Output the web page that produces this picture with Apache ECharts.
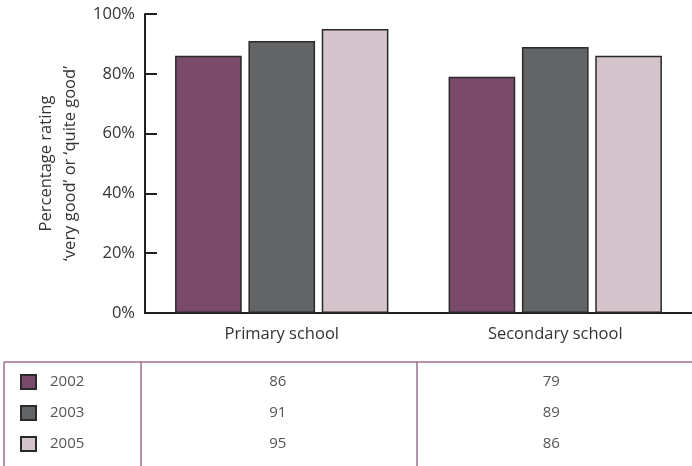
<!DOCTYPE html>
<html>
<head>
<meta charset="utf-8">
<script src="https://cdn.jsdelivr.net/npm/echarts@6/dist/echarts.min.js"></script>
<style>
  html, body { margin: 0; padding: 0; background: #fff; }
  #chart { width: 692px; height: 466px; }
</style>
</head>
<body>
<div id="chart"></div>
<script>
// ---- data ----
const categories = ['Primary school', 'Secondary school'];
const years = ['2002', '2003', '2005'];
const values2002 = [86, 79];
const values2003 = [91, 89];
const values2005 = [95, 86];
const yTicks = [0, 20, 40, 60, 80, 100];
const yAxisTitle = 'Percentage rating\n\u2018very good\u2019 or \u2018quite good\u2019';

// ---- style ----
const FONT = '"Open Sans", "Noto Sans", sans-serif';
const colors = ['#7a4a6a', '#636466', '#d5c4cb'];
const seriesValues = [values2002, values2003, values2005];
const tableLine = '#9a7090';

const chart = echarts.init(document.getElementById('chart'), null, { renderer: 'canvas' });

const option = {
  animation: false,
  backgroundColor: '#fff',
  textStyle: { fontFamily: FONT },
  grid: { left: 145, right: 0, top: 14, bottom: 153, containLabel: false },
  legend: {
    orient: 'vertical',
    left: 20,
    top: 374,
    padding: 0,
    itemWidth: 15,
    itemHeight: 14,
    itemGap: 15,
    icon: 'rect',
    selectedMode: false,
    textStyle: { fontFamily: FONT, fontSize: 15, color: '#555', padding: [0, 0, 0, 9] },
    data: years
  },
  xAxis: {
    type: 'category',
    data: categories,
    axisLine: { lineStyle: { color: '#231f20', width: 2 } },
    axisTick: { inside: true, length: 7, lineStyle: { color: '#231f20', width: 2 } },
    axisLabel: { fontFamily: FONT, fontSize: 16.5, color: '#333', margin: 13 }
  },
  yAxis: {
    type: 'value',
    min: yTicks[0],
    max: yTicks[yTicks.length - 1],
    interval: yTicks[1] - yTicks[0],
    name: yAxisTitle,
    nameLocation: 'middle',
    nameRotate: 90,
    nameGap: 63,
    nameTextStyle: { fontFamily: FONT, fontSize: 16.5, color: '#333', lineHeight: 24 },
    splitLine: { show: false },
    axisLine: { show: true, lineStyle: { color: '#231f20', width: 2 } },
    axisTick: { show: true, inside: true, length: 12, lineStyle: { color: '#231f20', width: 2 } },
    axisLabel: { fontFamily: FONT, fontSize: 16.5, color: '#333', margin: 10, formatter: '{value}%' }
  },
  series: years.map((y, i) => ({
    name: y,
    type: 'bar',
    data: seriesValues[i],
    barGap: '10%',
    barCategoryGap: '22%',
    itemStyle: { color: colors[i], borderColor: '#2a2a2a', borderWidth: 1.5 }
  }))
};

chart.setOption(option);

// ---- data table below the chart ----
const tableTop = 362;
const rowY = [382, 413, 444];
const colDividers = [4, 141, 417];
const W = 692, H = 466;

const graphics = [];
graphics.push({ type: 'line', shape: { x1: colDividers[0], y1: tableTop, x2: W, y2: tableTop },
  style: { stroke: tableLine, lineWidth: 1.5 }, silent: true });
colDividers.forEach(x => {
  graphics.push({ type: 'line', shape: { x1: x, y1: tableTop, x2: x, y2: H },
    style: { stroke: tableLine, lineWidth: 1.5 }, silent: true });
});
categories.forEach((cat, ci) => {
  const cx = chart.convertToPixel({ xAxisIndex: 0 }, cat);
  seriesValues.forEach((vals, ri) => {
    graphics.push({
      type: 'text', x: cx - 4, y: rowY[ri], silent: true,
      style: { text: String(vals[ci]), font: '15px ' + FONT, fill: '#555',
        textAlign: 'center', textVerticalAlign: 'middle' }
    });
  });
});
chart.setOption({ graphic: graphics });
</script>
</body>
</html>
